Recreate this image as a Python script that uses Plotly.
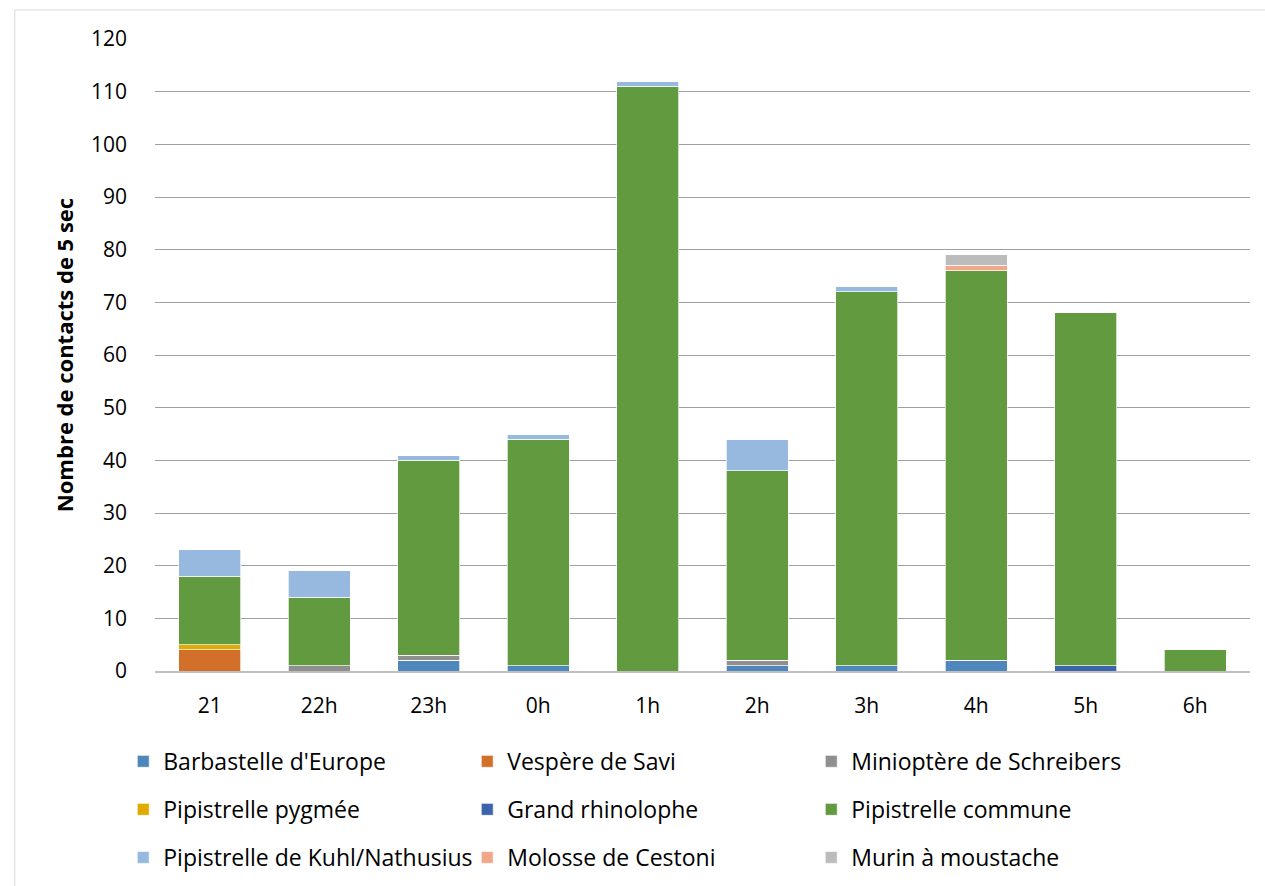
import plotly.graph_objects as go

hours = ["21", "22h", "23h", "0h", "1h", "2h", "3h", "4h", "5h", "6h"]

barbastelle = [0, 0, 2, 1, 0, 1, 1, 2, 0, 0]
vespere_savi = [4, 0, 0, 0, 0, 0, 0, 0, 0, 0]
minioptere = [0, 1, 1, 0, 0, 1, 0, 0, 0, 0]
pip_pygmee = [1, 0, 0, 0, 0, 0, 0, 0, 0, 0]
grand_rhino = [0, 0, 0, 0, 0, 0, 0, 0, 1, 0]
pip_commune = [13, 13, 37, 43, 111, 36, 71, 74, 67, 4]
pip_kuhl = [5, 5, 1, 1, 1, 6, 1, 0, 0, 0]
molosse = [0, 0, 0, 0, 0, 0, 0, 1, 0, 0]
murin = [0, 0, 0, 0, 0, 0, 0, 2, 0, 0]

series = [
    ("Barbastelle d'Europe", barbastelle, "#4F87BC", "legend"),
    ("Vespère de Savi", vespere_savi, "#D2702B", "legend"),
    ("Minioptère de Schreibers", minioptere, "#8F8F8F", "legend"),
    ("Pipistrelle pygmée", pip_pygmee, "#E0AA00", "legend2"),
    ("Grand rhinolophe", grand_rhino, "#3D63AA", "legend2"),
    ("Pipistrelle commune", pip_commune, "#629A3F", "legend2"),
    ("Pipistrelle de Kuhl/Nathusius", pip_kuhl, "#97B8DF", "legend3"),
    ("Molosse de Cestoni", molosse, "#F1A88A", "legend3"),
    ("Murin à moustache", murin, "#BCBCBC", "legend3"),
]

FONT = "Open Sans"

fig = go.Figure()
for name, vals, color, leg in series:
    fig.add_trace(go.Bar(
        x=hours, y=vals, name=name, legend=leg,
        marker=dict(color=color, line=dict(color="white", width=0.7)),
    ))

legend_common = dict(
    orientation="h", entrywidth=299, entrywidthmode="pixels",
    font=dict(family=FONT, size=23, color="#000000"),
    bgcolor="rgba(0,0,0,0)", itemwidth=30,
    xanchor="left", yanchor="middle", traceorder="normal",
)

fig.update_layout(
    width=1265, height=886,
    margin=dict(l=155, r=15, t=39, b=215, autoexpand=False),
    paper_bgcolor="white", plot_bgcolor="white",
    barmode="stack", bargap=0.43,
    font=dict(family=FONT, size=21, color="#000000"),
    xaxis=dict(
        type="category", showgrid=False, showline=True,
        linecolor="#BFBFBF", linewidth=2, ticks="",
        tickfont=dict(family=FONT, size=21), ticklabelstandoff=15,
    ),
    yaxis=dict(
        range=[0, 120], dtick=10, showgrid=True, gridcolor="#A0A0A0",
        gridwidth=1, zeroline=False, showline=False, ticks="",
        tickfont=dict(family=FONT, size=21), ticklabelstandoff=27,
        title=dict(text="<b>Nombre de contacts de 5 sec</b>",
                   font=dict(family=FONT, size=22), standoff=11),
    ),
    legend=dict(x=-0.029, y=-0.143, **legend_common),
    legend2=dict(x=-0.029, y=-0.219, **legend_common),
    legend3=dict(x=-0.029, y=-0.295, **legend_common),
    shapes=[dict(type="rect", xref="paper", yref="paper",
                 x0=-0.128, x1=1.03, y0=-0.4, y1=1.046,
                 line=dict(color="#D9D9D9", width=1), layer="below")],
)

fig.write_html("out.html")
